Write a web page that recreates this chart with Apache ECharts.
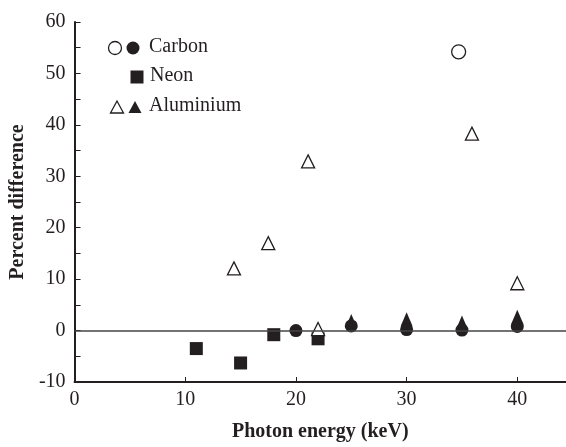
<!DOCTYPE html>
<html>
<head>
<meta charset="utf-8">
<script src="https://cdn.jsdelivr.net/npm/echarts@6/dist/echarts.min.js"></script>
<style>
  html, body { margin: 0; padding: 0; background: #fff; }
  #chart { width: 566px; height: 447px; }
</style>
</head>
<body>
<div id="chart"></div>
<script>
// values
var carbonOpenX = [34.7];
var carbonOpenY = [54.2];
var carbonX = [20, 25, 30, 35, 40];
var carbonY = [0.0, 0.9, 0.2, 0.1, 0.8];
var neonX = [11, 15, 18, 22];
var neonY = [-3.5, -6.3, -0.8, -1.6];
var alOpenX = [14.4, 17.5, 21.1, 22, 35.9, 40];
var alOpenY = [12.1, 17.0, 32.9, 0.3, 38.3, 9.2];
var alX = [25, 30, 35, 40];
var alY = [1.3, 1.6, 1.0, 2.1];
var xTicks = [0, 10, 20, 30, 40];

var ink = '#231f20';
var font = '"Liberation Serif", "DejaVu Serif", serif';

function pairs(xs, ys) {
    return xs.map(function (x, i) { return [x, ys[i]]; });
}

var openStyle = { color: '#fff', borderColor: ink, borderWidth: 1.3, opacity: 1 };
var fillStyle = { color: ink, opacity: 1 };

var chart = echarts.init(document.getElementById('chart'));
var option = {
    animation: false,
    grid: { left: 73, right: 0, top: 22, bottom: 59, containLabel: false },
    xAxis: {
        type: 'value',
        min: 0,
        max: 44.4,
        name: 'Photon energy (keV)',
        nameLocation: 'middle',
        nameGap: 40,
        nameTextStyle: { fontFamily: font, fontSize: 20, fontWeight: 'bold', color: ink },
        axisLine: { onZero: false, lineStyle: { color: ink, width: 2 } },
        axisTick: { inside: true, length: 5, customValues: xTicks, lineStyle: { color: ink, width: 1 } },
        axisLabel: { customValues: xTicks, margin: 8, fontFamily: font, fontSize: 20, color: ink },
        splitLine: { show: false }
    },
    yAxis: {
        type: 'value',
        min: -10,
        max: 60,
        interval: 10,
        name: 'Percent difference',
        nameLocation: 'middle',
        nameGap: 45,
        nameTextStyle: { fontFamily: font, fontSize: 20, fontWeight: 'bold', color: ink },
        axisLine: { onZero: false, lineStyle: { color: ink, width: 2 } },
        axisTick: { inside: true, length: 6, lineStyle: { color: ink, width: 1 } },
        minorTick: { show: true, splitNumber: 2, length: 6, lineStyle: { color: ink, width: 1 } },
        axisLabel: { margin: 9, fontFamily: font, fontSize: 20, color: ink },
        splitLine: { show: false }
    },
    graphic: [
        { type: 'circle', shape: { cx: 115, cy: 48, r: 6.5 }, style: { fill: '#fff', stroke: ink, lineWidth: 1.3 } },
        { type: 'circle', shape: { cx: 133, cy: 48, r: 6.5 }, style: { fill: ink } },
        { type: 'text', left: 149, top: 37, style: { text: 'Carbon', font: '20px ' + font, fill: ink } },
        { type: 'rect', shape: { x: 130.5, y: 70.5, width: 13, height: 13 }, style: { fill: ink } },
        { type: 'text', left: 150, top: 66, style: { text: 'Neon', font: '20px ' + font, fill: ink } },
        { type: 'polygon', shape: { points: [[117, 101], [110.5, 113], [123.5, 113]] }, style: { fill: '#fff', stroke: ink, lineWidth: 1.3 } },
        { type: 'polygon', shape: { points: [[135, 101], [128.5, 113], [141.5, 113]] }, style: { fill: ink } },
        { type: 'text', left: 149, top: 96, style: { text: 'Aluminium', font: '20px ' + font, fill: ink } }
    ],
    series: [
        {
            name: 'Zero',
            type: 'line',
            data: [],
            markLine: {
                silent: true,
                symbol: 'none',
                label: { show: false },
                lineStyle: { color: '#444', width: 1.5, type: 'solid' },
                data: [{ yAxis: 0 }]
            }
        },
        {
            name: 'Neon',
            type: 'scatter',
            symbol: 'rect',
            symbolSize: 13,
            itemStyle: fillStyle,
            data: pairs(neonX, neonY)
        },
        {
            name: 'Aluminium filled',
            type: 'scatter',
            symbol: 'triangle',
            symbolSize: [12, 14],
            symbolOffset: [0, -3],
            itemStyle: fillStyle,
            data: pairs(alX, alY)
        },
        {
            name: 'Carbon filled',
            type: 'scatter',
            symbol: 'circle',
            symbolSize: 13,
            itemStyle: fillStyle,
            data: pairs(carbonX, carbonY)
        },
        {
            name: 'Aluminium open',
            type: 'scatter',
            symbol: 'triangle',
            symbolSize: 13,
            itemStyle: openStyle,
            data: pairs(alOpenX, alOpenY)
        },
        {
            name: 'Carbon open',
            type: 'scatter',
            symbol: 'circle',
            symbolSize: 14,
            itemStyle: openStyle,
            data: pairs(carbonOpenX, carbonOpenY)
        }
    ]
};
chart.setOption(option);
</script>
</body>
</html>
